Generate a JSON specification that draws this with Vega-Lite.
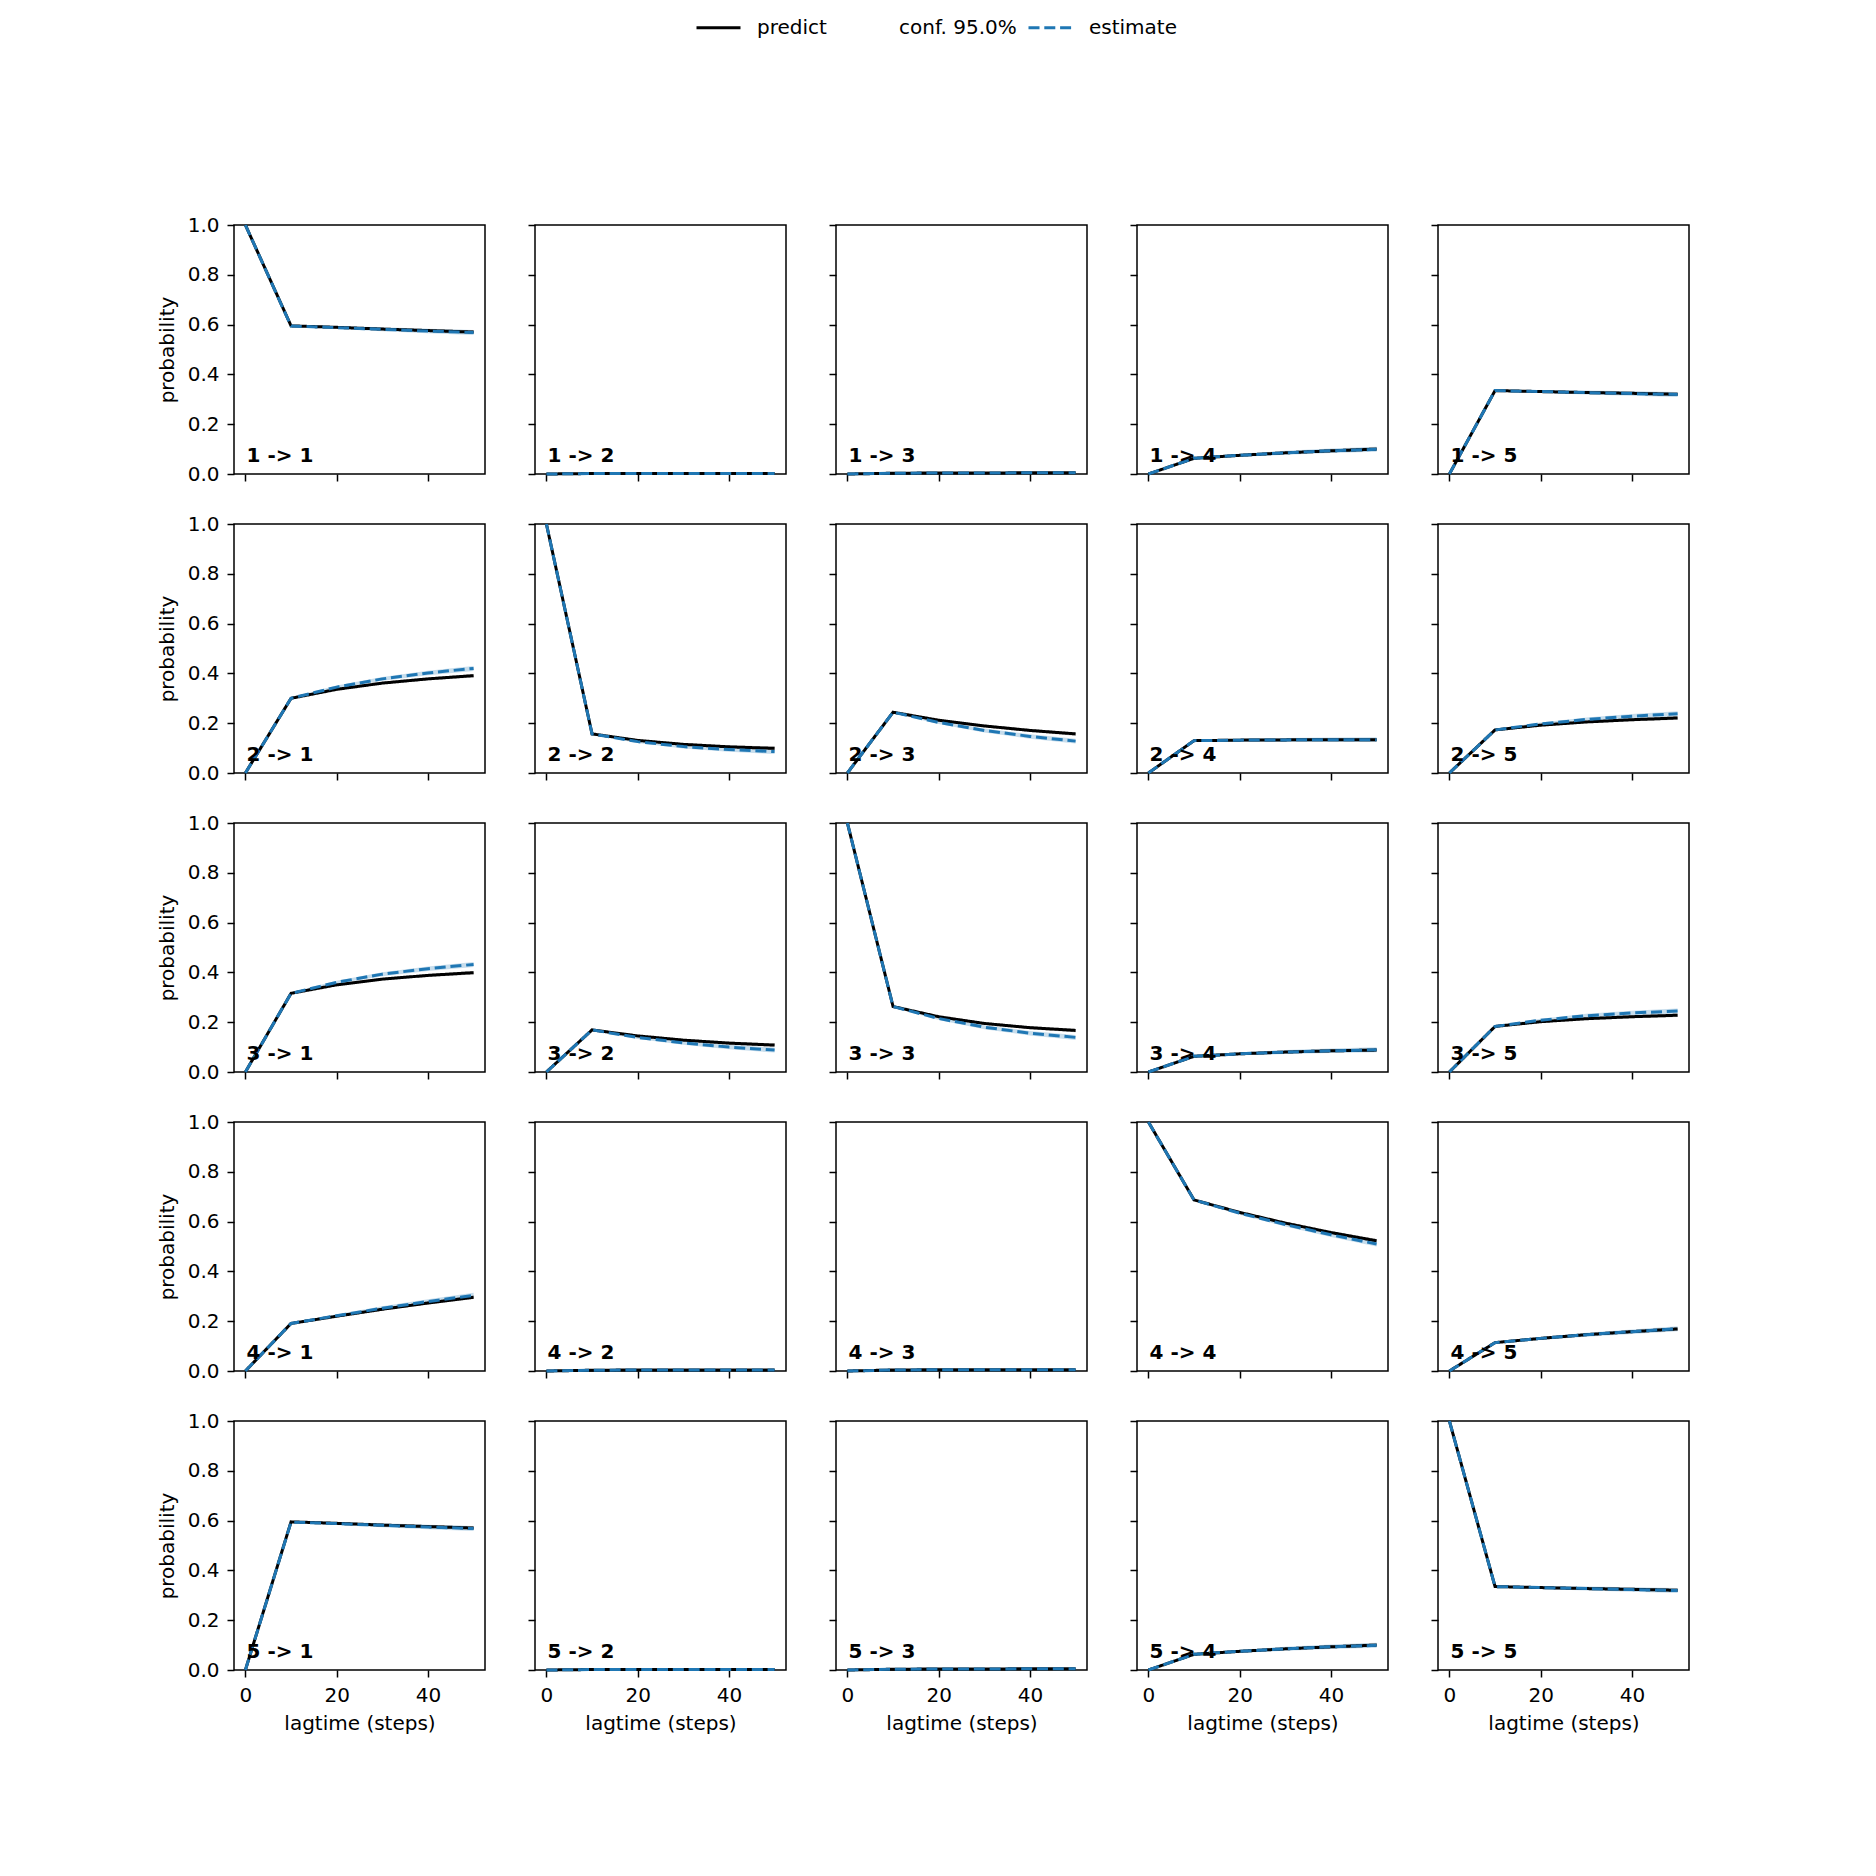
{
  "$schema": "https://vega.github.io/schema/vega-lite/v6.json",
  "padding": {"left": 156, "top": 4, "right": 10, "bottom": 10},
  "background": "white",
  "datasets": {
    "ck": [
      {"cell":"1 -> 1","kind":"predict","lag":0,"prob":1,"lo":1,"hi":1},
      {"cell":"1 -> 1","kind":"predict","lag":10,"prob":0.595,"lo":0.592,"hi":0.598},
      {"cell":"1 -> 1","kind":"predict","lag":20,"prob":0.589,"lo":0.585,"hi":0.593},
      {"cell":"1 -> 1","kind":"predict","lag":30,"prob":0.582,"lo":0.577,"hi":0.587},
      {"cell":"1 -> 1","kind":"predict","lag":40,"prob":0.576,"lo":0.570,"hi":0.582},
      {"cell":"1 -> 1","kind":"predict","lag":50,"prob":0.570,"lo":0.563,"hi":0.577},
      {"cell":"1 -> 1","kind":"estimate","lag":0,"prob":1,"lo":1,"hi":1},
      {"cell":"1 -> 1","kind":"estimate","lag":10,"prob":0.594,"lo":0.590,"hi":0.598},
      {"cell":"1 -> 1","kind":"estimate","lag":20,"prob":0.588,"lo":0.582,"hi":0.594},
      {"cell":"1 -> 1","kind":"estimate","lag":30,"prob":0.581,"lo":0.573,"hi":0.589},
      {"cell":"1 -> 1","kind":"estimate","lag":40,"prob":0.574,"lo":0.565,"hi":0.583},
      {"cell":"1 -> 1","kind":"estimate","lag":50,"prob":0.568,"lo":0.558,"hi":0.578},

      {"cell":"1 -> 2","kind":"predict","lag":0,"prob":0,"lo":0,"hi":0},
      {"cell":"1 -> 2","kind":"predict","lag":10,"prob":0.002,"lo":0.001,"hi":0.003},
      {"cell":"1 -> 2","kind":"predict","lag":20,"prob":0.002,"lo":0.001,"hi":0.003},
      {"cell":"1 -> 2","kind":"predict","lag":30,"prob":0.002,"lo":0.001,"hi":0.003},
      {"cell":"1 -> 2","kind":"predict","lag":40,"prob":0.002,"lo":0.001,"hi":0.003},
      {"cell":"1 -> 2","kind":"predict","lag":50,"prob":0.002,"lo":0.001,"hi":0.003},
      {"cell":"1 -> 2","kind":"estimate","lag":0,"prob":0,"lo":0,"hi":0},
      {"cell":"1 -> 2","kind":"estimate","lag":10,"prob":0.002,"lo":0.001,"hi":0.003},
      {"cell":"1 -> 2","kind":"estimate","lag":20,"prob":0.002,"lo":0.001,"hi":0.003},
      {"cell":"1 -> 2","kind":"estimate","lag":30,"prob":0.002,"lo":0.001,"hi":0.003},
      {"cell":"1 -> 2","kind":"estimate","lag":40,"prob":0.002,"lo":0.001,"hi":0.003},
      {"cell":"1 -> 2","kind":"estimate","lag":50,"prob":0.002,"lo":0.001,"hi":0.003},

      {"cell":"1 -> 3","kind":"predict","lag":0,"prob":0,"lo":0,"hi":0},
      {"cell":"1 -> 3","kind":"predict","lag":10,"prob":0.003,"lo":0.002,"hi":0.004},
      {"cell":"1 -> 3","kind":"predict","lag":20,"prob":0.004,"lo":0.003,"hi":0.005},
      {"cell":"1 -> 3","kind":"predict","lag":30,"prob":0.004,"lo":0.003,"hi":0.005},
      {"cell":"1 -> 3","kind":"predict","lag":40,"prob":0.005,"lo":0.004,"hi":0.006},
      {"cell":"1 -> 3","kind":"predict","lag":50,"prob":0.005,"lo":0.004,"hi":0.006},
      {"cell":"1 -> 3","kind":"estimate","lag":0,"prob":0,"lo":0,"hi":0},
      {"cell":"1 -> 3","kind":"estimate","lag":10,"prob":0.003,"lo":0.002,"hi":0.004},
      {"cell":"1 -> 3","kind":"estimate","lag":20,"prob":0.004,"lo":0.003,"hi":0.005},
      {"cell":"1 -> 3","kind":"estimate","lag":30,"prob":0.004,"lo":0.003,"hi":0.005},
      {"cell":"1 -> 3","kind":"estimate","lag":40,"prob":0.005,"lo":0.004,"hi":0.006},
      {"cell":"1 -> 3","kind":"estimate","lag":50,"prob":0.005,"lo":0.004,"hi":0.006},

      {"cell":"1 -> 4","kind":"predict","lag":0,"prob":0,"lo":0,"hi":0},
      {"cell":"1 -> 4","kind":"predict","lag":10,"prob":0.063,"lo":0.060,"hi":0.066},
      {"cell":"1 -> 4","kind":"predict","lag":20,"prob":0.075,"lo":0.071,"hi":0.079},
      {"cell":"1 -> 4","kind":"predict","lag":30,"prob":0.085,"lo":0.080,"hi":0.090},
      {"cell":"1 -> 4","kind":"predict","lag":40,"prob":0.093,"lo":0.087,"hi":0.099},
      {"cell":"1 -> 4","kind":"predict","lag":50,"prob":0.100,"lo":0.093,"hi":0.107},
      {"cell":"1 -> 4","kind":"estimate","lag":0,"prob":0,"lo":0,"hi":0},
      {"cell":"1 -> 4","kind":"estimate","lag":10,"prob":0.063,"lo":0.059,"hi":0.067},
      {"cell":"1 -> 4","kind":"estimate","lag":20,"prob":0.075,"lo":0.069,"hi":0.081},
      {"cell":"1 -> 4","kind":"estimate","lag":30,"prob":0.085,"lo":0.077,"hi":0.093},
      {"cell":"1 -> 4","kind":"estimate","lag":40,"prob":0.093,"lo":0.084,"hi":0.102},
      {"cell":"1 -> 4","kind":"estimate","lag":50,"prob":0.099,"lo":0.089,"hi":0.109},

      {"cell":"1 -> 5","kind":"predict","lag":0,"prob":0,"lo":0,"hi":0},
      {"cell":"1 -> 5","kind":"predict","lag":10,"prob":0.335,"lo":0.332,"hi":0.338},
      {"cell":"1 -> 5","kind":"predict","lag":20,"prob":0.331,"lo":0.327,"hi":0.335},
      {"cell":"1 -> 5","kind":"predict","lag":30,"prob":0.327,"lo":0.322,"hi":0.332},
      {"cell":"1 -> 5","kind":"predict","lag":40,"prob":0.324,"lo":0.318,"hi":0.330},
      {"cell":"1 -> 5","kind":"predict","lag":50,"prob":0.320,"lo":0.313,"hi":0.327},
      {"cell":"1 -> 5","kind":"estimate","lag":0,"prob":0,"lo":0,"hi":0},
      {"cell":"1 -> 5","kind":"estimate","lag":10,"prob":0.335,"lo":0.331,"hi":0.339},
      {"cell":"1 -> 5","kind":"estimate","lag":20,"prob":0.331,"lo":0.325,"hi":0.337},
      {"cell":"1 -> 5","kind":"estimate","lag":30,"prob":0.327,"lo":0.319,"hi":0.335},
      {"cell":"1 -> 5","kind":"estimate","lag":40,"prob":0.323,"lo":0.314,"hi":0.332},
      {"cell":"1 -> 5","kind":"estimate","lag":50,"prob":0.319,"lo":0.309,"hi":0.329},

      {"cell":"2 -> 1","kind":"predict","lag":0,"prob":0,"lo":0,"hi":0},
      {"cell":"2 -> 1","kind":"predict","lag":10,"prob":0.300,"lo":0.297,"hi":0.303},
      {"cell":"2 -> 1","kind":"predict","lag":20,"prob":0.336,"lo":0.332,"hi":0.340},
      {"cell":"2 -> 1","kind":"predict","lag":30,"prob":0.361,"lo":0.356,"hi":0.366},
      {"cell":"2 -> 1","kind":"predict","lag":40,"prob":0.378,"lo":0.372,"hi":0.384},
      {"cell":"2 -> 1","kind":"predict","lag":50,"prob":0.391,"lo":0.384,"hi":0.398},
      {"cell":"2 -> 1","kind":"estimate","lag":0,"prob":0,"lo":0,"hi":0},
      {"cell":"2 -> 1","kind":"estimate","lag":10,"prob":0.300,"lo":0.296,"hi":0.304},
      {"cell":"2 -> 1","kind":"estimate","lag":20,"prob":0.345,"lo":0.339,"hi":0.351},
      {"cell":"2 -> 1","kind":"estimate","lag":30,"prob":0.378,"lo":0.370,"hi":0.386},
      {"cell":"2 -> 1","kind":"estimate","lag":40,"prob":0.402,"lo":0.393,"hi":0.411},
      {"cell":"2 -> 1","kind":"estimate","lag":50,"prob":0.420,"lo":0.410,"hi":0.430},

      {"cell":"2 -> 2","kind":"predict","lag":0,"prob":1,"lo":1,"hi":1},
      {"cell":"2 -> 2","kind":"predict","lag":10,"prob":0.157,"lo":0.154,"hi":0.160},
      {"cell":"2 -> 2","kind":"predict","lag":20,"prob":0.131,"lo":0.127,"hi":0.135},
      {"cell":"2 -> 2","kind":"predict","lag":30,"prob":0.115,"lo":0.110,"hi":0.120},
      {"cell":"2 -> 2","kind":"predict","lag":40,"prob":0.105,"lo":0.099,"hi":0.111},
      {"cell":"2 -> 2","kind":"predict","lag":50,"prob":0.099,"lo":0.092,"hi":0.106},
      {"cell":"2 -> 2","kind":"estimate","lag":0,"prob":1,"lo":1,"hi":1},
      {"cell":"2 -> 2","kind":"estimate","lag":10,"prob":0.157,"lo":0.153,"hi":0.161},
      {"cell":"2 -> 2","kind":"estimate","lag":20,"prob":0.126,"lo":0.120,"hi":0.132},
      {"cell":"2 -> 2","kind":"estimate","lag":30,"prob":0.106,"lo":0.098,"hi":0.114},
      {"cell":"2 -> 2","kind":"estimate","lag":40,"prob":0.094,"lo":0.085,"hi":0.103},
      {"cell":"2 -> 2","kind":"estimate","lag":50,"prob":0.086,"lo":0.076,"hi":0.096},

      {"cell":"2 -> 3","kind":"predict","lag":0,"prob":0,"lo":0,"hi":0},
      {"cell":"2 -> 3","kind":"predict","lag":10,"prob":0.244,"lo":0.241,"hi":0.247},
      {"cell":"2 -> 3","kind":"predict","lag":20,"prob":0.212,"lo":0.208,"hi":0.216},
      {"cell":"2 -> 3","kind":"predict","lag":30,"prob":0.189,"lo":0.184,"hi":0.194},
      {"cell":"2 -> 3","kind":"predict","lag":40,"prob":0.171,"lo":0.165,"hi":0.177},
      {"cell":"2 -> 3","kind":"predict","lag":50,"prob":0.157,"lo":0.150,"hi":0.164},
      {"cell":"2 -> 3","kind":"estimate","lag":0,"prob":0,"lo":0,"hi":0},
      {"cell":"2 -> 3","kind":"estimate","lag":10,"prob":0.244,"lo":0.240,"hi":0.248},
      {"cell":"2 -> 3","kind":"estimate","lag":20,"prob":0.203,"lo":0.197,"hi":0.209},
      {"cell":"2 -> 3","kind":"estimate","lag":30,"prob":0.171,"lo":0.163,"hi":0.179},
      {"cell":"2 -> 3","kind":"estimate","lag":40,"prob":0.147,"lo":0.138,"hi":0.156},
      {"cell":"2 -> 3","kind":"estimate","lag":50,"prob":0.128,"lo":0.118,"hi":0.138},

      {"cell":"2 -> 4","kind":"predict","lag":0,"prob":0,"lo":0,"hi":0},
      {"cell":"2 -> 4","kind":"predict","lag":10,"prob":0.130,"lo":0.127,"hi":0.133},
      {"cell":"2 -> 4","kind":"predict","lag":20,"prob":0.132,"lo":0.128,"hi":0.136},
      {"cell":"2 -> 4","kind":"predict","lag":30,"prob":0.133,"lo":0.128,"hi":0.138},
      {"cell":"2 -> 4","kind":"predict","lag":40,"prob":0.134,"lo":0.128,"hi":0.140},
      {"cell":"2 -> 4","kind":"predict","lag":50,"prob":0.134,"lo":0.127,"hi":0.141},
      {"cell":"2 -> 4","kind":"estimate","lag":0,"prob":0,"lo":0,"hi":0},
      {"cell":"2 -> 4","kind":"estimate","lag":10,"prob":0.130,"lo":0.126,"hi":0.134},
      {"cell":"2 -> 4","kind":"estimate","lag":20,"prob":0.132,"lo":0.126,"hi":0.138},
      {"cell":"2 -> 4","kind":"estimate","lag":30,"prob":0.133,"lo":0.125,"hi":0.141},
      {"cell":"2 -> 4","kind":"estimate","lag":40,"prob":0.134,"lo":0.125,"hi":0.143},
      {"cell":"2 -> 4","kind":"estimate","lag":50,"prob":0.134,"lo":0.124,"hi":0.144},

      {"cell":"2 -> 5","kind":"predict","lag":0,"prob":0,"lo":0,"hi":0},
      {"cell":"2 -> 5","kind":"predict","lag":10,"prob":0.173,"lo":0.170,"hi":0.176},
      {"cell":"2 -> 5","kind":"predict","lag":20,"prob":0.192,"lo":0.188,"hi":0.196},
      {"cell":"2 -> 5","kind":"predict","lag":30,"prob":0.205,"lo":0.200,"hi":0.210},
      {"cell":"2 -> 5","kind":"predict","lag":40,"prob":0.214,"lo":0.208,"hi":0.220},
      {"cell":"2 -> 5","kind":"predict","lag":50,"prob":0.221,"lo":0.214,"hi":0.228},
      {"cell":"2 -> 5","kind":"estimate","lag":0,"prob":0,"lo":0,"hi":0},
      {"cell":"2 -> 5","kind":"estimate","lag":10,"prob":0.173,"lo":0.169,"hi":0.177},
      {"cell":"2 -> 5","kind":"estimate","lag":20,"prob":0.197,"lo":0.191,"hi":0.203},
      {"cell":"2 -> 5","kind":"estimate","lag":30,"prob":0.215,"lo":0.207,"hi":0.223},
      {"cell":"2 -> 5","kind":"estimate","lag":40,"prob":0.228,"lo":0.219,"hi":0.237},
      {"cell":"2 -> 5","kind":"estimate","lag":50,"prob":0.238,"lo":0.228,"hi":0.248},

      {"cell":"3 -> 1","kind":"predict","lag":0,"prob":0,"lo":0,"hi":0},
      {"cell":"3 -> 1","kind":"predict","lag":10,"prob":0.316,"lo":0.313,"hi":0.319},
      {"cell":"3 -> 1","kind":"predict","lag":20,"prob":0.350,"lo":0.346,"hi":0.354},
      {"cell":"3 -> 1","kind":"predict","lag":30,"prob":0.373,"lo":0.368,"hi":0.378},
      {"cell":"3 -> 1","kind":"predict","lag":40,"prob":0.388,"lo":0.382,"hi":0.394},
      {"cell":"3 -> 1","kind":"predict","lag":50,"prob":0.399,"lo":0.392,"hi":0.406},
      {"cell":"3 -> 1","kind":"estimate","lag":0,"prob":0,"lo":0,"hi":0},
      {"cell":"3 -> 1","kind":"estimate","lag":10,"prob":0.316,"lo":0.312,"hi":0.320},
      {"cell":"3 -> 1","kind":"estimate","lag":20,"prob":0.360,"lo":0.354,"hi":0.366},
      {"cell":"3 -> 1","kind":"estimate","lag":30,"prob":0.393,"lo":0.385,"hi":0.401},
      {"cell":"3 -> 1","kind":"estimate","lag":40,"prob":0.415,"lo":0.406,"hi":0.424},
      {"cell":"3 -> 1","kind":"estimate","lag":50,"prob":0.432,"lo":0.422,"hi":0.442},

      {"cell":"3 -> 2","kind":"predict","lag":0,"prob":0,"lo":0,"hi":0},
      {"cell":"3 -> 2","kind":"predict","lag":10,"prob":0.169,"lo":0.166,"hi":0.172},
      {"cell":"3 -> 2","kind":"predict","lag":20,"prob":0.145,"lo":0.141,"hi":0.149},
      {"cell":"3 -> 2","kind":"predict","lag":30,"prob":0.128,"lo":0.123,"hi":0.133},
      {"cell":"3 -> 2","kind":"predict","lag":40,"prob":0.116,"lo":0.110,"hi":0.122},
      {"cell":"3 -> 2","kind":"predict","lag":50,"prob":0.108,"lo":0.101,"hi":0.115},
      {"cell":"3 -> 2","kind":"estimate","lag":0,"prob":0,"lo":0,"hi":0},
      {"cell":"3 -> 2","kind":"estimate","lag":10,"prob":0.169,"lo":0.165,"hi":0.173},
      {"cell":"3 -> 2","kind":"estimate","lag":20,"prob":0.139,"lo":0.133,"hi":0.145},
      {"cell":"3 -> 2","kind":"estimate","lag":30,"prob":0.117,"lo":0.109,"hi":0.125},
      {"cell":"3 -> 2","kind":"estimate","lag":40,"prob":0.100,"lo":0.091,"hi":0.109},
      {"cell":"3 -> 2","kind":"estimate","lag":50,"prob":0.088,"lo":0.078,"hi":0.098},

      {"cell":"3 -> 3","kind":"predict","lag":0,"prob":1,"lo":1,"hi":1},
      {"cell":"3 -> 3","kind":"predict","lag":10,"prob":0.263,"lo":0.260,"hi":0.266},
      {"cell":"3 -> 3","kind":"predict","lag":20,"prob":0.222,"lo":0.218,"hi":0.226},
      {"cell":"3 -> 3","kind":"predict","lag":30,"prob":0.195,"lo":0.190,"hi":0.200},
      {"cell":"3 -> 3","kind":"predict","lag":40,"prob":0.178,"lo":0.172,"hi":0.184},
      {"cell":"3 -> 3","kind":"predict","lag":50,"prob":0.167,"lo":0.160,"hi":0.174},
      {"cell":"3 -> 3","kind":"estimate","lag":0,"prob":1,"lo":1,"hi":1},
      {"cell":"3 -> 3","kind":"estimate","lag":10,"prob":0.263,"lo":0.259,"hi":0.267},
      {"cell":"3 -> 3","kind":"estimate","lag":20,"prob":0.215,"lo":0.209,"hi":0.221},
      {"cell":"3 -> 3","kind":"estimate","lag":30,"prob":0.180,"lo":0.172,"hi":0.188},
      {"cell":"3 -> 3","kind":"estimate","lag":40,"prob":0.156,"lo":0.147,"hi":0.165},
      {"cell":"3 -> 3","kind":"estimate","lag":50,"prob":0.139,"lo":0.129,"hi":0.149},

      {"cell":"3 -> 4","kind":"predict","lag":0,"prob":0,"lo":0,"hi":0},
      {"cell":"3 -> 4","kind":"predict","lag":10,"prob":0.063,"lo":0.060,"hi":0.066},
      {"cell":"3 -> 4","kind":"predict","lag":20,"prob":0.073,"lo":0.069,"hi":0.077},
      {"cell":"3 -> 4","kind":"predict","lag":30,"prob":0.080,"lo":0.075,"hi":0.085},
      {"cell":"3 -> 4","kind":"predict","lag":40,"prob":0.085,"lo":0.079,"hi":0.091},
      {"cell":"3 -> 4","kind":"predict","lag":50,"prob":0.088,"lo":0.081,"hi":0.095},
      {"cell":"3 -> 4","kind":"estimate","lag":0,"prob":0,"lo":0,"hi":0},
      {"cell":"3 -> 4","kind":"estimate","lag":10,"prob":0.063,"lo":0.059,"hi":0.067},
      {"cell":"3 -> 4","kind":"estimate","lag":20,"prob":0.073,"lo":0.067,"hi":0.079},
      {"cell":"3 -> 4","kind":"estimate","lag":30,"prob":0.080,"lo":0.072,"hi":0.088},
      {"cell":"3 -> 4","kind":"estimate","lag":40,"prob":0.085,"lo":0.076,"hi":0.094},
      {"cell":"3 -> 4","kind":"estimate","lag":50,"prob":0.089,"lo":0.079,"hi":0.099},

      {"cell":"3 -> 5","kind":"predict","lag":0,"prob":0,"lo":0,"hi":0},
      {"cell":"3 -> 5","kind":"predict","lag":10,"prob":0.183,"lo":0.180,"hi":0.186},
      {"cell":"3 -> 5","kind":"predict","lag":20,"prob":0.202,"lo":0.198,"hi":0.206},
      {"cell":"3 -> 5","kind":"predict","lag":30,"prob":0.214,"lo":0.209,"hi":0.219},
      {"cell":"3 -> 5","kind":"predict","lag":40,"prob":0.222,"lo":0.216,"hi":0.228},
      {"cell":"3 -> 5","kind":"predict","lag":50,"prob":0.228,"lo":0.221,"hi":0.235},
      {"cell":"3 -> 5","kind":"estimate","lag":0,"prob":0,"lo":0,"hi":0},
      {"cell":"3 -> 5","kind":"estimate","lag":10,"prob":0.183,"lo":0.179,"hi":0.187},
      {"cell":"3 -> 5","kind":"estimate","lag":20,"prob":0.208,"lo":0.202,"hi":0.214},
      {"cell":"3 -> 5","kind":"estimate","lag":30,"prob":0.226,"lo":0.218,"hi":0.234},
      {"cell":"3 -> 5","kind":"estimate","lag":40,"prob":0.237,"lo":0.228,"hi":0.246},
      {"cell":"3 -> 5","kind":"estimate","lag":50,"prob":0.245,"lo":0.235,"hi":0.255},

      {"cell":"4 -> 1","kind":"predict","lag":0,"prob":0,"lo":0,"hi":0},
      {"cell":"4 -> 1","kind":"predict","lag":10,"prob":0.191,"lo":0.188,"hi":0.194},
      {"cell":"4 -> 1","kind":"predict","lag":20,"prob":0.220,"lo":0.216,"hi":0.224},
      {"cell":"4 -> 1","kind":"predict","lag":30,"prob":0.248,"lo":0.243,"hi":0.253},
      {"cell":"4 -> 1","kind":"predict","lag":40,"prob":0.273,"lo":0.267,"hi":0.279},
      {"cell":"4 -> 1","kind":"predict","lag":50,"prob":0.296,"lo":0.289,"hi":0.303},
      {"cell":"4 -> 1","kind":"estimate","lag":0,"prob":0,"lo":0,"hi":0},
      {"cell":"4 -> 1","kind":"estimate","lag":10,"prob":0.191,"lo":0.187,"hi":0.195},
      {"cell":"4 -> 1","kind":"estimate","lag":20,"prob":0.222,"lo":0.216,"hi":0.228},
      {"cell":"4 -> 1","kind":"estimate","lag":30,"prob":0.252,"lo":0.244,"hi":0.260},
      {"cell":"4 -> 1","kind":"estimate","lag":40,"prob":0.279,"lo":0.270,"hi":0.288},
      {"cell":"4 -> 1","kind":"estimate","lag":50,"prob":0.304,"lo":0.294,"hi":0.314},

      {"cell":"4 -> 2","kind":"predict","lag":0,"prob":0,"lo":0,"hi":0},
      {"cell":"4 -> 2","kind":"predict","lag":10,"prob":0.003,"lo":0.002,"hi":0.004},
      {"cell":"4 -> 2","kind":"predict","lag":20,"prob":0.004,"lo":0.003,"hi":0.005},
      {"cell":"4 -> 2","kind":"predict","lag":30,"prob":0.004,"lo":0.003,"hi":0.005},
      {"cell":"4 -> 2","kind":"predict","lag":40,"prob":0.004,"lo":0.003,"hi":0.005},
      {"cell":"4 -> 2","kind":"predict","lag":50,"prob":0.004,"lo":0.003,"hi":0.005},
      {"cell":"4 -> 2","kind":"estimate","lag":0,"prob":0,"lo":0,"hi":0},
      {"cell":"4 -> 2","kind":"estimate","lag":10,"prob":0.003,"lo":0.002,"hi":0.004},
      {"cell":"4 -> 2","kind":"estimate","lag":20,"prob":0.004,"lo":0.003,"hi":0.005},
      {"cell":"4 -> 2","kind":"estimate","lag":30,"prob":0.004,"lo":0.003,"hi":0.005},
      {"cell":"4 -> 2","kind":"estimate","lag":40,"prob":0.004,"lo":0.003,"hi":0.005},
      {"cell":"4 -> 2","kind":"estimate","lag":50,"prob":0.004,"lo":0.003,"hi":0.005},

      {"cell":"4 -> 3","kind":"predict","lag":0,"prob":0,"lo":0,"hi":0},
      {"cell":"4 -> 3","kind":"predict","lag":10,"prob":0.004,"lo":0.003,"hi":0.005},
      {"cell":"4 -> 3","kind":"predict","lag":20,"prob":0.005,"lo":0.004,"hi":0.006},
      {"cell":"4 -> 3","kind":"predict","lag":30,"prob":0.005,"lo":0.004,"hi":0.006},
      {"cell":"4 -> 3","kind":"predict","lag":40,"prob":0.005,"lo":0.004,"hi":0.006},
      {"cell":"4 -> 3","kind":"predict","lag":50,"prob":0.005,"lo":0.004,"hi":0.006},
      {"cell":"4 -> 3","kind":"estimate","lag":0,"prob":0,"lo":0,"hi":0},
      {"cell":"4 -> 3","kind":"estimate","lag":10,"prob":0.004,"lo":0.003,"hi":0.005},
      {"cell":"4 -> 3","kind":"estimate","lag":20,"prob":0.005,"lo":0.004,"hi":0.006},
      {"cell":"4 -> 3","kind":"estimate","lag":30,"prob":0.005,"lo":0.004,"hi":0.006},
      {"cell":"4 -> 3","kind":"estimate","lag":40,"prob":0.005,"lo":0.004,"hi":0.006},
      {"cell":"4 -> 3","kind":"estimate","lag":50,"prob":0.005,"lo":0.004,"hi":0.006},

      {"cell":"4 -> 4","kind":"predict","lag":0,"prob":1,"lo":1,"hi":1},
      {"cell":"4 -> 4","kind":"predict","lag":10,"prob":0.687,"lo":0.684,"hi":0.690},
      {"cell":"4 -> 4","kind":"predict","lag":20,"prob":0.637,"lo":0.633,"hi":0.641},
      {"cell":"4 -> 4","kind":"predict","lag":30,"prob":0.594,"lo":0.589,"hi":0.599},
      {"cell":"4 -> 4","kind":"predict","lag":40,"prob":0.556,"lo":0.550,"hi":0.562},
      {"cell":"4 -> 4","kind":"predict","lag":50,"prob":0.523,"lo":0.516,"hi":0.530},
      {"cell":"4 -> 4","kind":"estimate","lag":0,"prob":1,"lo":1,"hi":1},
      {"cell":"4 -> 4","kind":"estimate","lag":10,"prob":0.687,"lo":0.683,"hi":0.691},
      {"cell":"4 -> 4","kind":"estimate","lag":20,"prob":0.634,"lo":0.628,"hi":0.640},
      {"cell":"4 -> 4","kind":"estimate","lag":30,"prob":0.588,"lo":0.580,"hi":0.596},
      {"cell":"4 -> 4","kind":"estimate","lag":40,"prob":0.547,"lo":0.538,"hi":0.556},
      {"cell":"4 -> 4","kind":"estimate","lag":50,"prob":0.510,"lo":0.500,"hi":0.520},

      {"cell":"4 -> 5","kind":"predict","lag":0,"prob":0,"lo":0,"hi":0},
      {"cell":"4 -> 5","kind":"predict","lag":10,"prob":0.114,"lo":0.111,"hi":0.117},
      {"cell":"4 -> 5","kind":"predict","lag":20,"prob":0.131,"lo":0.127,"hi":0.135},
      {"cell":"4 -> 5","kind":"predict","lag":30,"prob":0.146,"lo":0.141,"hi":0.151},
      {"cell":"4 -> 5","kind":"predict","lag":40,"prob":0.158,"lo":0.152,"hi":0.164},
      {"cell":"4 -> 5","kind":"predict","lag":50,"prob":0.169,"lo":0.162,"hi":0.176},
      {"cell":"4 -> 5","kind":"estimate","lag":0,"prob":0,"lo":0,"hi":0},
      {"cell":"4 -> 5","kind":"estimate","lag":10,"prob":0.114,"lo":0.110,"hi":0.118},
      {"cell":"4 -> 5","kind":"estimate","lag":20,"prob":0.131,"lo":0.125,"hi":0.137},
      {"cell":"4 -> 5","kind":"estimate","lag":30,"prob":0.146,"lo":0.138,"hi":0.154},
      {"cell":"4 -> 5","kind":"estimate","lag":40,"prob":0.158,"lo":0.149,"hi":0.167},
      {"cell":"4 -> 5","kind":"estimate","lag":50,"prob":0.170,"lo":0.160,"hi":0.180},

      {"cell":"5 -> 1","kind":"predict","lag":0,"prob":0,"lo":0,"hi":0},
      {"cell":"5 -> 1","kind":"predict","lag":10,"prob":0.595,"lo":0.592,"hi":0.598},
      {"cell":"5 -> 1","kind":"predict","lag":20,"prob":0.589,"lo":0.585,"hi":0.593},
      {"cell":"5 -> 1","kind":"predict","lag":30,"prob":0.582,"lo":0.577,"hi":0.587},
      {"cell":"5 -> 1","kind":"predict","lag":40,"prob":0.576,"lo":0.570,"hi":0.582},
      {"cell":"5 -> 1","kind":"predict","lag":50,"prob":0.570,"lo":0.563,"hi":0.577},
      {"cell":"5 -> 1","kind":"estimate","lag":0,"prob":0,"lo":0,"hi":0},
      {"cell":"5 -> 1","kind":"estimate","lag":10,"prob":0.594,"lo":0.590,"hi":0.598},
      {"cell":"5 -> 1","kind":"estimate","lag":20,"prob":0.588,"lo":0.582,"hi":0.594},
      {"cell":"5 -> 1","kind":"estimate","lag":30,"prob":0.581,"lo":0.573,"hi":0.589},
      {"cell":"5 -> 1","kind":"estimate","lag":40,"prob":0.574,"lo":0.565,"hi":0.583},
      {"cell":"5 -> 1","kind":"estimate","lag":50,"prob":0.568,"lo":0.558,"hi":0.578},

      {"cell":"5 -> 2","kind":"predict","lag":0,"prob":0,"lo":0,"hi":0},
      {"cell":"5 -> 2","kind":"predict","lag":10,"prob":0.002,"lo":0.001,"hi":0.003},
      {"cell":"5 -> 2","kind":"predict","lag":20,"prob":0.002,"lo":0.001,"hi":0.003},
      {"cell":"5 -> 2","kind":"predict","lag":30,"prob":0.002,"lo":0.001,"hi":0.003},
      {"cell":"5 -> 2","kind":"predict","lag":40,"prob":0.002,"lo":0.001,"hi":0.003},
      {"cell":"5 -> 2","kind":"predict","lag":50,"prob":0.002,"lo":0.001,"hi":0.003},
      {"cell":"5 -> 2","kind":"estimate","lag":0,"prob":0,"lo":0,"hi":0},
      {"cell":"5 -> 2","kind":"estimate","lag":10,"prob":0.002,"lo":0.001,"hi":0.003},
      {"cell":"5 -> 2","kind":"estimate","lag":20,"prob":0.002,"lo":0.001,"hi":0.003},
      {"cell":"5 -> 2","kind":"estimate","lag":30,"prob":0.002,"lo":0.001,"hi":0.003},
      {"cell":"5 -> 2","kind":"estimate","lag":40,"prob":0.002,"lo":0.001,"hi":0.003},
      {"cell":"5 -> 2","kind":"estimate","lag":50,"prob":0.002,"lo":0.001,"hi":0.003},

      {"cell":"5 -> 3","kind":"predict","lag":0,"prob":0,"lo":0,"hi":0},
      {"cell":"5 -> 3","kind":"predict","lag":10,"prob":0.003,"lo":0.002,"hi":0.004},
      {"cell":"5 -> 3","kind":"predict","lag":20,"prob":0.004,"lo":0.003,"hi":0.005},
      {"cell":"5 -> 3","kind":"predict","lag":30,"prob":0.004,"lo":0.003,"hi":0.005},
      {"cell":"5 -> 3","kind":"predict","lag":40,"prob":0.005,"lo":0.004,"hi":0.006},
      {"cell":"5 -> 3","kind":"predict","lag":50,"prob":0.005,"lo":0.004,"hi":0.006},
      {"cell":"5 -> 3","kind":"estimate","lag":0,"prob":0,"lo":0,"hi":0},
      {"cell":"5 -> 3","kind":"estimate","lag":10,"prob":0.003,"lo":0.002,"hi":0.004},
      {"cell":"5 -> 3","kind":"estimate","lag":20,"prob":0.004,"lo":0.003,"hi":0.005},
      {"cell":"5 -> 3","kind":"estimate","lag":30,"prob":0.004,"lo":0.003,"hi":0.005},
      {"cell":"5 -> 3","kind":"estimate","lag":40,"prob":0.005,"lo":0.004,"hi":0.006},
      {"cell":"5 -> 3","kind":"estimate","lag":50,"prob":0.005,"lo":0.004,"hi":0.006},

      {"cell":"5 -> 4","kind":"predict","lag":0,"prob":0,"lo":0,"hi":0},
      {"cell":"5 -> 4","kind":"predict","lag":10,"prob":0.063,"lo":0.060,"hi":0.066},
      {"cell":"5 -> 4","kind":"predict","lag":20,"prob":0.075,"lo":0.071,"hi":0.079},
      {"cell":"5 -> 4","kind":"predict","lag":30,"prob":0.085,"lo":0.080,"hi":0.090},
      {"cell":"5 -> 4","kind":"predict","lag":40,"prob":0.093,"lo":0.087,"hi":0.099},
      {"cell":"5 -> 4","kind":"predict","lag":50,"prob":0.100,"lo":0.093,"hi":0.107},
      {"cell":"5 -> 4","kind":"estimate","lag":0,"prob":0,"lo":0,"hi":0},
      {"cell":"5 -> 4","kind":"estimate","lag":10,"prob":0.063,"lo":0.059,"hi":0.067},
      {"cell":"5 -> 4","kind":"estimate","lag":20,"prob":0.075,"lo":0.069,"hi":0.081},
      {"cell":"5 -> 4","kind":"estimate","lag":30,"prob":0.085,"lo":0.077,"hi":0.093},
      {"cell":"5 -> 4","kind":"estimate","lag":40,"prob":0.093,"lo":0.084,"hi":0.102},
      {"cell":"5 -> 4","kind":"estimate","lag":50,"prob":0.099,"lo":0.089,"hi":0.109},

      {"cell":"5 -> 5","kind":"predict","lag":0,"prob":1,"lo":1,"hi":1},
      {"cell":"5 -> 5","kind":"predict","lag":10,"prob":0.335,"lo":0.332,"hi":0.338},
      {"cell":"5 -> 5","kind":"predict","lag":20,"prob":0.331,"lo":0.327,"hi":0.335},
      {"cell":"5 -> 5","kind":"predict","lag":30,"prob":0.327,"lo":0.322,"hi":0.332},
      {"cell":"5 -> 5","kind":"predict","lag":40,"prob":0.324,"lo":0.318,"hi":0.330},
      {"cell":"5 -> 5","kind":"predict","lag":50,"prob":0.320,"lo":0.313,"hi":0.327},
      {"cell":"5 -> 5","kind":"estimate","lag":0,"prob":1,"lo":1,"hi":1},
      {"cell":"5 -> 5","kind":"estimate","lag":10,"prob":0.335,"lo":0.331,"hi":0.339},
      {"cell":"5 -> 5","kind":"estimate","lag":20,"prob":0.331,"lo":0.325,"hi":0.337},
      {"cell":"5 -> 5","kind":"estimate","lag":30,"prob":0.327,"lo":0.319,"hi":0.335},
      {"cell":"5 -> 5","kind":"estimate","lag":40,"prob":0.323,"lo":0.314,"hi":0.332},
      {"cell":"5 -> 5","kind":"estimate","lag":50,"prob":0.319,"lo":0.309,"hi":0.329}
    ]
  },
  "data": {"name": "ck"},
  "columns": 5,
  "spacing": {"row": 50, "column": 50},
  "bounds": "flush",
  "concat": [
    {"transform":[{"filter":"datum.cell == '1 -> 1'"}],"encoding":{"x":{"field":"lag","type":"quantitative","scale":{"domain":[-2.5,52.5],"nice":false,"zero":false},"axis":{"values":[0,20,40],"labels":false,"title":null}},"y":{"field":"prob","type":"quantitative","scale":{"domain":[0,1],"nice":false},"axis":{"values":[0,0.2,0.4,0.6,0.8,1],"format":".1f","labels":true,"title":"probability"}}},"layer":[
      {"mark":{"type":"area","opacity":0.25},"encoding":{"y":{"field":"lo","type":"quantitative"},"y2":{"field":"hi"},"fill":{"field":"kind","type":"nominal","legend":null,"scale":{"domain":["predict","estimate"],"range":["#000000","#1f77b4"]}}}},
      {"transform":[{"filter":"datum.kind == 'predict'"}],"mark":{"type":"line","strokeWidth":3},"encoding":{"stroke":{"field":"kind","type":"nominal","title":null,"scale":{"domain":["predict","conf. 95.0%","estimate"],"range":["#000000","transparent","#1f77b4"]}},"strokeDash":{"field":"kind","type":"nominal","title":null,"scale":{"domain":["predict","conf. 95.0%","estimate"],"range":[[1,0],[1,0],[11,4.8]]}}}},
      {"transform":[{"filter":"datum.kind == 'estimate'"}],"mark":{"type":"line","strokeWidth":3},"encoding":{"stroke":{"field":"kind","type":"nominal","title":null,"scale":{"domain":["predict","conf. 95.0%","estimate"],"range":["#000000","transparent","#1f77b4"]}},"strokeDash":{"field":"kind","type":"nominal","title":null,"scale":{"domain":["predict","conf. 95.0%","estimate"],"range":[[1,0],[1,0],[11,4.8]]}}}},
      {"transform":[{"filter":"datum.kind == 'predict' && datum.lag == 0"}],"mark":{"type":"text","fontWeight":"bold","align":"left","baseline":"alphabetic"},"encoding":{"x":{"datum":0.25,"type":"quantitative"},"y":{"datum":0.05,"type":"quantitative"},"text":{"field":"cell"}}}
    ]},
    {"transform":[{"filter":"datum.cell == '1 -> 2'"}],"encoding":{"x":{"field":"lag","type":"quantitative","scale":{"domain":[-2.5,52.5],"nice":false,"zero":false},"axis":{"values":[0,20,40],"labels":false,"title":null}},"y":{"field":"prob","type":"quantitative","scale":{"domain":[0,1],"nice":false},"axis":{"values":[0,0.2,0.4,0.6,0.8,1],"format":".1f","labels":false,"title":null}}},"layer":[
      {"mark":{"type":"area","opacity":0.25},"encoding":{"y":{"field":"lo","type":"quantitative"},"y2":{"field":"hi"},"fill":{"field":"kind","type":"nominal","legend":null,"scale":{"domain":["predict","estimate"],"range":["#000000","#1f77b4"]}}}},
      {"transform":[{"filter":"datum.kind == 'predict'"}],"mark":{"type":"line","strokeWidth":3},"encoding":{"stroke":{"field":"kind","type":"nominal","title":null,"scale":{"domain":["predict","conf. 95.0%","estimate"],"range":["#000000","transparent","#1f77b4"]}},"strokeDash":{"field":"kind","type":"nominal","title":null,"scale":{"domain":["predict","conf. 95.0%","estimate"],"range":[[1,0],[1,0],[11,4.8]]}}}},
      {"transform":[{"filter":"datum.kind == 'estimate'"}],"mark":{"type":"line","strokeWidth":3},"encoding":{"stroke":{"field":"kind","type":"nominal","title":null,"scale":{"domain":["predict","conf. 95.0%","estimate"],"range":["#000000","transparent","#1f77b4"]}},"strokeDash":{"field":"kind","type":"nominal","title":null,"scale":{"domain":["predict","conf. 95.0%","estimate"],"range":[[1,0],[1,0],[11,4.8]]}}}},
      {"transform":[{"filter":"datum.kind == 'predict' && datum.lag == 0"}],"mark":{"type":"text","fontWeight":"bold","align":"left","baseline":"alphabetic"},"encoding":{"x":{"datum":0.25,"type":"quantitative"},"y":{"datum":0.05,"type":"quantitative"},"text":{"field":"cell"}}}
    ]},
    {"transform":[{"filter":"datum.cell == '1 -> 3'"}],"encoding":{"x":{"field":"lag","type":"quantitative","scale":{"domain":[-2.5,52.5],"nice":false,"zero":false},"axis":{"values":[0,20,40],"labels":false,"title":null}},"y":{"field":"prob","type":"quantitative","scale":{"domain":[0,1],"nice":false},"axis":{"values":[0,0.2,0.4,0.6,0.8,1],"format":".1f","labels":false,"title":null}}},"layer":[
      {"mark":{"type":"area","opacity":0.25},"encoding":{"y":{"field":"lo","type":"quantitative"},"y2":{"field":"hi"},"fill":{"field":"kind","type":"nominal","legend":null,"scale":{"domain":["predict","estimate"],"range":["#000000","#1f77b4"]}}}},
      {"transform":[{"filter":"datum.kind == 'predict'"}],"mark":{"type":"line","strokeWidth":3},"encoding":{"stroke":{"field":"kind","type":"nominal","title":null,"scale":{"domain":["predict","conf. 95.0%","estimate"],"range":["#000000","transparent","#1f77b4"]}},"strokeDash":{"field":"kind","type":"nominal","title":null,"scale":{"domain":["predict","conf. 95.0%","estimate"],"range":[[1,0],[1,0],[11,4.8]]}}}},
      {"transform":[{"filter":"datum.kind == 'estimate'"}],"mark":{"type":"line","strokeWidth":3},"encoding":{"stroke":{"field":"kind","type":"nominal","title":null,"scale":{"domain":["predict","conf. 95.0%","estimate"],"range":["#000000","transparent","#1f77b4"]}},"strokeDash":{"field":"kind","type":"nominal","title":null,"scale":{"domain":["predict","conf. 95.0%","estimate"],"range":[[1,0],[1,0],[11,4.8]]}}}},
      {"transform":[{"filter":"datum.kind == 'predict' && datum.lag == 0"}],"mark":{"type":"text","fontWeight":"bold","align":"left","baseline":"alphabetic"},"encoding":{"x":{"datum":0.25,"type":"quantitative"},"y":{"datum":0.05,"type":"quantitative"},"text":{"field":"cell"}}}
    ]},
    {"transform":[{"filter":"datum.cell == '1 -> 4'"}],"encoding":{"x":{"field":"lag","type":"quantitative","scale":{"domain":[-2.5,52.5],"nice":false,"zero":false},"axis":{"values":[0,20,40],"labels":false,"title":null}},"y":{"field":"prob","type":"quantitative","scale":{"domain":[0,1],"nice":false},"axis":{"values":[0,0.2,0.4,0.6,0.8,1],"format":".1f","labels":false,"title":null}}},"layer":[
      {"mark":{"type":"area","opacity":0.25},"encoding":{"y":{"field":"lo","type":"quantitative"},"y2":{"field":"hi"},"fill":{"field":"kind","type":"nominal","legend":null,"scale":{"domain":["predict","estimate"],"range":["#000000","#1f77b4"]}}}},
      {"transform":[{"filter":"datum.kind == 'predict'"}],"mark":{"type":"line","strokeWidth":3},"encoding":{"stroke":{"field":"kind","type":"nominal","title":null,"scale":{"domain":["predict","conf. 95.0%","estimate"],"range":["#000000","transparent","#1f77b4"]}},"strokeDash":{"field":"kind","type":"nominal","title":null,"scale":{"domain":["predict","conf. 95.0%","estimate"],"range":[[1,0],[1,0],[11,4.8]]}}}},
      {"transform":[{"filter":"datum.kind == 'estimate'"}],"mark":{"type":"line","strokeWidth":3},"encoding":{"stroke":{"field":"kind","type":"nominal","title":null,"scale":{"domain":["predict","conf. 95.0%","estimate"],"range":["#000000","transparent","#1f77b4"]}},"strokeDash":{"field":"kind","type":"nominal","title":null,"scale":{"domain":["predict","conf. 95.0%","estimate"],"range":[[1,0],[1,0],[11,4.8]]}}}},
      {"transform":[{"filter":"datum.kind == 'predict' && datum.lag == 0"}],"mark":{"type":"text","fontWeight":"bold","align":"left","baseline":"alphabetic"},"encoding":{"x":{"datum":0.25,"type":"quantitative"},"y":{"datum":0.05,"type":"quantitative"},"text":{"field":"cell"}}}
    ]},
    {"transform":[{"filter":"datum.cell == '1 -> 5'"}],"encoding":{"x":{"field":"lag","type":"quantitative","scale":{"domain":[-2.5,52.5],"nice":false,"zero":false},"axis":{"values":[0,20,40],"labels":false,"title":null}},"y":{"field":"prob","type":"quantitative","scale":{"domain":[0,1],"nice":false},"axis":{"values":[0,0.2,0.4,0.6,0.8,1],"format":".1f","labels":false,"title":null}}},"layer":[
      {"mark":{"type":"area","opacity":0.25},"encoding":{"y":{"field":"lo","type":"quantitative"},"y2":{"field":"hi"},"fill":{"field":"kind","type":"nominal","legend":null,"scale":{"domain":["predict","estimate"],"range":["#000000","#1f77b4"]}}}},
      {"transform":[{"filter":"datum.kind == 'predict'"}],"mark":{"type":"line","strokeWidth":3},"encoding":{"stroke":{"field":"kind","type":"nominal","title":null,"scale":{"domain":["predict","conf. 95.0%","estimate"],"range":["#000000","transparent","#1f77b4"]}},"strokeDash":{"field":"kind","type":"nominal","title":null,"scale":{"domain":["predict","conf. 95.0%","estimate"],"range":[[1,0],[1,0],[11,4.8]]}}}},
      {"transform":[{"filter":"datum.kind == 'estimate'"}],"mark":{"type":"line","strokeWidth":3},"encoding":{"stroke":{"field":"kind","type":"nominal","title":null,"scale":{"domain":["predict","conf. 95.0%","estimate"],"range":["#000000","transparent","#1f77b4"]}},"strokeDash":{"field":"kind","type":"nominal","title":null,"scale":{"domain":["predict","conf. 95.0%","estimate"],"range":[[1,0],[1,0],[11,4.8]]}}}},
      {"transform":[{"filter":"datum.kind == 'predict' && datum.lag == 0"}],"mark":{"type":"text","fontWeight":"bold","align":"left","baseline":"alphabetic"},"encoding":{"x":{"datum":0.25,"type":"quantitative"},"y":{"datum":0.05,"type":"quantitative"},"text":{"field":"cell"}}}
    ]},

    {"transform":[{"filter":"datum.cell == '2 -> 1'"}],"encoding":{"x":{"field":"lag","type":"quantitative","scale":{"domain":[-2.5,52.5],"nice":false,"zero":false},"axis":{"values":[0,20,40],"labels":false,"title":null}},"y":{"field":"prob","type":"quantitative","scale":{"domain":[0,1],"nice":false},"axis":{"values":[0,0.2,0.4,0.6,0.8,1],"format":".1f","labels":true,"title":"probability"}}},"layer":[
      {"mark":{"type":"area","opacity":0.25},"encoding":{"y":{"field":"lo","type":"quantitative"},"y2":{"field":"hi"},"fill":{"field":"kind","type":"nominal","legend":null,"scale":{"domain":["predict","estimate"],"range":["#000000","#1f77b4"]}}}},
      {"transform":[{"filter":"datum.kind == 'predict'"}],"mark":{"type":"line","strokeWidth":3},"encoding":{"stroke":{"field":"kind","type":"nominal","title":null,"scale":{"domain":["predict","conf. 95.0%","estimate"],"range":["#000000","transparent","#1f77b4"]}},"strokeDash":{"field":"kind","type":"nominal","title":null,"scale":{"domain":["predict","conf. 95.0%","estimate"],"range":[[1,0],[1,0],[11,4.8]]}}}},
      {"transform":[{"filter":"datum.kind == 'estimate'"}],"mark":{"type":"line","strokeWidth":3},"encoding":{"stroke":{"field":"kind","type":"nominal","title":null,"scale":{"domain":["predict","conf. 95.0%","estimate"],"range":["#000000","transparent","#1f77b4"]}},"strokeDash":{"field":"kind","type":"nominal","title":null,"scale":{"domain":["predict","conf. 95.0%","estimate"],"range":[[1,0],[1,0],[11,4.8]]}}}},
      {"transform":[{"filter":"datum.kind == 'predict' && datum.lag == 0"}],"mark":{"type":"text","fontWeight":"bold","align":"left","baseline":"alphabetic"},"encoding":{"x":{"datum":0.25,"type":"quantitative"},"y":{"datum":0.05,"type":"quantitative"},"text":{"field":"cell"}}}
    ]},
    {"transform":[{"filter":"datum.cell == '2 -> 2'"}],"encoding":{"x":{"field":"lag","type":"quantitative","scale":{"domain":[-2.5,52.5],"nice":false,"zero":false},"axis":{"values":[0,20,40],"labels":false,"title":null}},"y":{"field":"prob","type":"quantitative","scale":{"domain":[0,1],"nice":false},"axis":{"values":[0,0.2,0.4,0.6,0.8,1],"format":".1f","labels":false,"title":null}}},"layer":[
      {"mark":{"type":"area","opacity":0.25},"encoding":{"y":{"field":"lo","type":"quantitative"},"y2":{"field":"hi"},"fill":{"field":"kind","type":"nominal","legend":null,"scale":{"domain":["predict","estimate"],"range":["#000000","#1f77b4"]}}}},
      {"transform":[{"filter":"datum.kind == 'predict'"}],"mark":{"type":"line","strokeWidth":3},"encoding":{"stroke":{"field":"kind","type":"nominal","title":null,"scale":{"domain":["predict","conf. 95.0%","estimate"],"range":["#000000","transparent","#1f77b4"]}},"strokeDash":{"field":"kind","type":"nominal","title":null,"scale":{"domain":["predict","conf. 95.0%","estimate"],"range":[[1,0],[1,0],[11,4.8]]}}}},
      {"transform":[{"filter":"datum.kind == 'estimate'"}],"mark":{"type":"line","strokeWidth":3},"encoding":{"stroke":{"field":"kind","type":"nominal","title":null,"scale":{"domain":["predict","conf. 95.0%","estimate"],"range":["#000000","transparent","#1f77b4"]}},"strokeDash":{"field":"kind","type":"nominal","title":null,"scale":{"domain":["predict","conf. 95.0%","estimate"],"range":[[1,0],[1,0],[11,4.8]]}}}},
      {"transform":[{"filter":"datum.kind == 'predict' && datum.lag == 0"}],"mark":{"type":"text","fontWeight":"bold","align":"left","baseline":"alphabetic"},"encoding":{"x":{"datum":0.25,"type":"quantitative"},"y":{"datum":0.05,"type":"quantitative"},"text":{"field":"cell"}}}
    ]},
    {"transform":[{"filter":"datum.cell == '2 -> 3'"}],"encoding":{"x":{"field":"lag","type":"quantitative","scale":{"domain":[-2.5,52.5],"nice":false,"zero":false},"axis":{"values":[0,20,40],"labels":false,"title":null}},"y":{"field":"prob","type":"quantitative","scale":{"domain":[0,1],"nice":false},"axis":{"values":[0,0.2,0.4,0.6,0.8,1],"format":".1f","labels":false,"title":null}}},"layer":[
      {"mark":{"type":"area","opacity":0.25},"encoding":{"y":{"field":"lo","type":"quantitative"},"y2":{"field":"hi"},"fill":{"field":"kind","type":"nominal","legend":null,"scale":{"domain":["predict","estimate"],"range":["#000000","#1f77b4"]}}}},
      {"transform":[{"filter":"datum.kind == 'predict'"}],"mark":{"type":"line","strokeWidth":3},"encoding":{"stroke":{"field":"kind","type":"nominal","title":null,"scale":{"domain":["predict","conf. 95.0%","estimate"],"range":["#000000","transparent","#1f77b4"]}},"strokeDash":{"field":"kind","type":"nominal","title":null,"scale":{"domain":["predict","conf. 95.0%","estimate"],"range":[[1,0],[1,0],[11,4.8]]}}}},
      {"transform":[{"filter":"datum.kind == 'estimate'"}],"mark":{"type":"line","strokeWidth":3},"encoding":{"stroke":{"field":"kind","type":"nominal","title":null,"scale":{"domain":["predict","conf. 95.0%","estimate"],"range":["#000000","transparent","#1f77b4"]}},"strokeDash":{"field":"kind","type":"nominal","title":null,"scale":{"domain":["predict","conf. 95.0%","estimate"],"range":[[1,0],[1,0],[11,4.8]]}}}},
      {"transform":[{"filter":"datum.kind == 'predict' && datum.lag == 0"}],"mark":{"type":"text","fontWeight":"bold","align":"left","baseline":"alphabetic"},"encoding":{"x":{"datum":0.25,"type":"quantitative"},"y":{"datum":0.05,"type":"quantitative"},"text":{"field":"cell"}}}
    ]},
    {"transform":[{"filter":"datum.cell == '2 -> 4'"}],"encoding":{"x":{"field":"lag","type":"quantitative","scale":{"domain":[-2.5,52.5],"nice":false,"zero":false},"axis":{"values":[0,20,40],"labels":false,"title":null}},"y":{"field":"prob","type":"quantitative","scale":{"domain":[0,1],"nice":false},"axis":{"values":[0,0.2,0.4,0.6,0.8,1],"format":".1f","labels":false,"title":null}}},"layer":[
      {"mark":{"type":"area","opacity":0.25},"encoding":{"y":{"field":"lo","type":"quantitative"},"y2":{"field":"hi"},"fill":{"field":"kind","type":"nominal","legend":null,"scale":{"domain":["predict","estimate"],"range":["#000000","#1f77b4"]}}}},
      {"transform":[{"filter":"datum.kind == 'predict'"}],"mark":{"type":"line","strokeWidth":3},"encoding":{"stroke":{"field":"kind","type":"nominal","title":null,"scale":{"domain":["predict","conf. 95.0%","estimate"],"range":["#000000","transparent","#1f77b4"]}},"strokeDash":{"field":"kind","type":"nominal","title":null,"scale":{"domain":["predict","conf. 95.0%","estimate"],"range":[[1,0],[1,0],[11,4.8]]}}}},
      {"transform":[{"filter":"datum.kind == 'estimate'"}],"mark":{"type":"line","strokeWidth":3},"encoding":{"stroke":{"field":"kind","type":"nominal","title":null,"scale":{"domain":["predict","conf. 95.0%","estimate"],"range":["#000000","transparent","#1f77b4"]}},"strokeDash":{"field":"kind","type":"nominal","title":null,"scale":{"domain":["predict","conf. 95.0%","estimate"],"range":[[1,0],[1,0],[11,4.8]]}}}},
      {"transform":[{"filter":"datum.kind == 'predict' && datum.lag == 0"}],"mark":{"type":"text","fontWeight":"bold","align":"left","baseline":"alphabetic"},"encoding":{"x":{"datum":0.25,"type":"quantitative"},"y":{"datum":0.05,"type":"quantitative"},"text":{"field":"cell"}}}
    ]},
    {"transform":[{"filter":"datum.cell == '2 -> 5'"}],"encoding":{"x":{"field":"lag","type":"quantitative","scale":{"domain":[-2.5,52.5],"nice":false,"zero":false},"axis":{"values":[0,20,40],"labels":false,"title":null}},"y":{"field":"prob","type":"quantitative","scale":{"domain":[0,1],"nice":false},"axis":{"values":[0,0.2,0.4,0.6,0.8,1],"format":".1f","labels":false,"title":null}}},"layer":[
      {"mark":{"type":"area","opacity":0.25},"encoding":{"y":{"field":"lo","type":"quantitative"},"y2":{"field":"hi"},"fill":{"field":"kind","type":"nominal","legend":null,"scale":{"domain":["predict","estimate"],"range":["#000000","#1f77b4"]}}}},
      {"transform":[{"filter":"datum.kind == 'predict'"}],"mark":{"type":"line","strokeWidth":3},"encoding":{"stroke":{"field":"kind","type":"nominal","title":null,"scale":{"domain":["predict","conf. 95.0%","estimate"],"range":["#000000","transparent","#1f77b4"]}},"strokeDash":{"field":"kind","type":"nominal","title":null,"scale":{"domain":["predict","conf. 95.0%","estimate"],"range":[[1,0],[1,0],[11,4.8]]}}}},
      {"transform":[{"filter":"datum.kind == 'estimate'"}],"mark":{"type":"line","strokeWidth":3},"encoding":{"stroke":{"field":"kind","type":"nominal","title":null,"scale":{"domain":["predict","conf. 95.0%","estimate"],"range":["#000000","transparent","#1f77b4"]}},"strokeDash":{"field":"kind","type":"nominal","title":null,"scale":{"domain":["predict","conf. 95.0%","estimate"],"range":[[1,0],[1,0],[11,4.8]]}}}},
      {"transform":[{"filter":"datum.kind == 'predict' && datum.lag == 0"}],"mark":{"type":"text","fontWeight":"bold","align":"left","baseline":"alphabetic"},"encoding":{"x":{"datum":0.25,"type":"quantitative"},"y":{"datum":0.05,"type":"quantitative"},"text":{"field":"cell"}}}
    ]},

    {"transform":[{"filter":"datum.cell == '3 -> 1'"}],"encoding":{"x":{"field":"lag","type":"quantitative","scale":{"domain":[-2.5,52.5],"nice":false,"zero":false},"axis":{"values":[0,20,40],"labels":false,"title":null}},"y":{"field":"prob","type":"quantitative","scale":{"domain":[0,1],"nice":false},"axis":{"values":[0,0.2,0.4,0.6,0.8,1],"format":".1f","labels":true,"title":"probability"}}},"layer":[
      {"mark":{"type":"area","opacity":0.25},"encoding":{"y":{"field":"lo","type":"quantitative"},"y2":{"field":"hi"},"fill":{"field":"kind","type":"nominal","legend":null,"scale":{"domain":["predict","estimate"],"range":["#000000","#1f77b4"]}}}},
      {"transform":[{"filter":"datum.kind == 'predict'"}],"mark":{"type":"line","strokeWidth":3},"encoding":{"stroke":{"field":"kind","type":"nominal","title":null,"scale":{"domain":["predict","conf. 95.0%","estimate"],"range":["#000000","transparent","#1f77b4"]}},"strokeDash":{"field":"kind","type":"nominal","title":null,"scale":{"domain":["predict","conf. 95.0%","estimate"],"range":[[1,0],[1,0],[11,4.8]]}}}},
      {"transform":[{"filter":"datum.kind == 'estimate'"}],"mark":{"type":"line","strokeWidth":3},"encoding":{"stroke":{"field":"kind","type":"nominal","title":null,"scale":{"domain":["predict","conf. 95.0%","estimate"],"range":["#000000","transparent","#1f77b4"]}},"strokeDash":{"field":"kind","type":"nominal","title":null,"scale":{"domain":["predict","conf. 95.0%","estimate"],"range":[[1,0],[1,0],[11,4.8]]}}}},
      {"transform":[{"filter":"datum.kind == 'predict' && datum.lag == 0"}],"mark":{"type":"text","fontWeight":"bold","align":"left","baseline":"alphabetic"},"encoding":{"x":{"datum":0.25,"type":"quantitative"},"y":{"datum":0.05,"type":"quantitative"},"text":{"field":"cell"}}}
    ]},
    {"transform":[{"filter":"datum.cell == '3 -> 2'"}],"encoding":{"x":{"field":"lag","type":"quantitative","scale":{"domain":[-2.5,52.5],"nice":false,"zero":false},"axis":{"values":[0,20,40],"labels":false,"title":null}},"y":{"field":"prob","type":"quantitative","scale":{"domain":[0,1],"nice":false},"axis":{"values":[0,0.2,0.4,0.6,0.8,1],"format":".1f","labels":false,"title":null}}},"layer":[
      {"mark":{"type":"area","opacity":0.25},"encoding":{"y":{"field":"lo","type":"quantitative"},"y2":{"field":"hi"},"fill":{"field":"kind","type":"nominal","legend":null,"scale":{"domain":["predict","estimate"],"range":["#000000","#1f77b4"]}}}},
      {"transform":[{"filter":"datum.kind == 'predict'"}],"mark":{"type":"line","strokeWidth":3},"encoding":{"stroke":{"field":"kind","type":"nominal","title":null,"scale":{"domain":["predict","conf. 95.0%","estimate"],"range":["#000000","transparent","#1f77b4"]}},"strokeDash":{"field":"kind","type":"nominal","title":null,"scale":{"domain":["predict","conf. 95.0%","estimate"],"range":[[1,0],[1,0],[11,4.8]]}}}},
      {"transform":[{"filter":"datum.kind == 'estimate'"}],"mark":{"type":"line","strokeWidth":3},"encoding":{"stroke":{"field":"kind","type":"nominal","title":null,"scale":{"domain":["predict","conf. 95.0%","estimate"],"range":["#000000","transparent","#1f77b4"]}},"strokeDash":{"field":"kind","type":"nominal","title":null,"scale":{"domain":["predict","conf. 95.0%","estimate"],"range":[[1,0],[1,0],[11,4.8]]}}}},
      {"transform":[{"filter":"datum.kind == 'predict' && datum.lag == 0"}],"mark":{"type":"text","fontWeight":"bold","align":"left","baseline":"alphabetic"},"encoding":{"x":{"datum":0.25,"type":"quantitative"},"y":{"datum":0.05,"type":"quantitative"},"text":{"field":"cell"}}}
    ]},
    {"transform":[{"filter":"datum.cell == '3 -> 3'"}],"encoding":{"x":{"field":"lag","type":"quantitative","scale":{"domain":[-2.5,52.5],"nice":false,"zero":false},"axis":{"values":[0,20,40],"labels":false,"title":null}},"y":{"field":"prob","type":"quantitative","scale":{"domain":[0,1],"nice":false},"axis":{"values":[0,0.2,0.4,0.6,0.8,1],"format":".1f","labels":false,"title":null}}},"layer":[
      {"mark":{"type":"area","opacity":0.25},"encoding":{"y":{"field":"lo","type":"quantitative"},"y2":{"field":"hi"},"fill":{"field":"kind","type":"nominal","legend":null,"scale":{"domain":["predict","estimate"],"range":["#000000","#1f77b4"]}}}},
      {"transform":[{"filter":"datum.kind == 'predict'"}],"mark":{"type":"line","strokeWidth":3},"encoding":{"stroke":{"field":"kind","type":"nominal","title":null,"scale":{"domain":["predict","conf. 95.0%","estimate"],"range":["#000000","transparent","#1f77b4"]}},"strokeDash":{"field":"kind","type":"nominal","title":null,"scale":{"domain":["predict","conf. 95.0%","estimate"],"range":[[1,0],[1,0],[11,4.8]]}}}},
      {"transform":[{"filter":"datum.kind == 'estimate'"}],"mark":{"type":"line","strokeWidth":3},"encoding":{"stroke":{"field":"kind","type":"nominal","title":null,"scale":{"domain":["predict","conf. 95.0%","estimate"],"range":["#000000","transparent","#1f77b4"]}},"strokeDash":{"field":"kind","type":"nominal","title":null,"scale":{"domain":["predict","conf. 95.0%","estimate"],"range":[[1,0],[1,0],[11,4.8]]}}}},
      {"transform":[{"filter":"datum.kind == 'predict' && datum.lag == 0"}],"mark":{"type":"text","fontWeight":"bold","align":"left","baseline":"alphabetic"},"encoding":{"x":{"datum":0.25,"type":"quantitative"},"y":{"datum":0.05,"type":"quantitative"},"text":{"field":"cell"}}}
    ]},
    {"transform":[{"filter":"datum.cell == '3 -> 4'"}],"encoding":{"x":{"field":"lag","type":"quantitative","scale":{"domain":[-2.5,52.5],"nice":false,"zero":false},"axis":{"values":[0,20,40],"labels":false,"title":null}},"y":{"field":"prob","type":"quantitative","scale":{"domain":[0,1],"nice":false},"axis":{"values":[0,0.2,0.4,0.6,0.8,1],"format":".1f","labels":false,"title":null}}},"layer":[
      {"mark":{"type":"area","opacity":0.25},"encoding":{"y":{"field":"lo","type":"quantitative"},"y2":{"field":"hi"},"fill":{"field":"kind","type":"nominal","legend":null,"scale":{"domain":["predict","estimate"],"range":["#000000","#1f77b4"]}}}},
      {"transform":[{"filter":"datum.kind == 'predict'"}],"mark":{"type":"line","strokeWidth":3},"encoding":{"stroke":{"field":"kind","type":"nominal","title":null,"scale":{"domain":["predict","conf. 95.0%","estimate"],"range":["#000000","transparent","#1f77b4"]}},"strokeDash":{"field":"kind","type":"nominal","title":null,"scale":{"domain":["predict","conf. 95.0%","estimate"],"range":[[1,0],[1,0],[11,4.8]]}}}},
      {"transform":[{"filter":"datum.kind == 'estimate'"}],"mark":{"type":"line","strokeWidth":3},"encoding":{"stroke":{"field":"kind","type":"nominal","title":null,"scale":{"domain":["predict","conf. 95.0%","estimate"],"range":["#000000","transparent","#1f77b4"]}},"strokeDash":{"field":"kind","type":"nominal","title":null,"scale":{"domain":["predict","conf. 95.0%","estimate"],"range":[[1,0],[1,0],[11,4.8]]}}}},
      {"transform":[{"filter":"datum.kind == 'predict' && datum.lag == 0"}],"mark":{"type":"text","fontWeight":"bold","align":"left","baseline":"alphabetic"},"encoding":{"x":{"datum":0.25,"type":"quantitative"},"y":{"datum":0.05,"type":"quantitative"},"text":{"field":"cell"}}}
    ]},
    {"transform":[{"filter":"datum.cell == '3 -> 5'"}],"encoding":{"x":{"field":"lag","type":"quantitative","scale":{"domain":[-2.5,52.5],"nice":false,"zero":false},"axis":{"values":[0,20,40],"labels":false,"title":null}},"y":{"field":"prob","type":"quantitative","scale":{"domain":[0,1],"nice":false},"axis":{"values":[0,0.2,0.4,0.6,0.8,1],"format":".1f","labels":false,"title":null}}},"layer":[
      {"mark":{"type":"area","opacity":0.25},"encoding":{"y":{"field":"lo","type":"quantitative"},"y2":{"field":"hi"},"fill":{"field":"kind","type":"nominal","legend":null,"scale":{"domain":["predict","estimate"],"range":["#000000","#1f77b4"]}}}},
      {"transform":[{"filter":"datum.kind == 'predict'"}],"mark":{"type":"line","strokeWidth":3},"encoding":{"stroke":{"field":"kind","type":"nominal","title":null,"scale":{"domain":["predict","conf. 95.0%","estimate"],"range":["#000000","transparent","#1f77b4"]}},"strokeDash":{"field":"kind","type":"nominal","title":null,"scale":{"domain":["predict","conf. 95.0%","estimate"],"range":[[1,0],[1,0],[11,4.8]]}}}},
      {"transform":[{"filter":"datum.kind == 'estimate'"}],"mark":{"type":"line","strokeWidth":3},"encoding":{"stroke":{"field":"kind","type":"nominal","title":null,"scale":{"domain":["predict","conf. 95.0%","estimate"],"range":["#000000","transparent","#1f77b4"]}},"strokeDash":{"field":"kind","type":"nominal","title":null,"scale":{"domain":["predict","conf. 95.0%","estimate"],"range":[[1,0],[1,0],[11,4.8]]}}}},
      {"transform":[{"filter":"datum.kind == 'predict' && datum.lag == 0"}],"mark":{"type":"text","fontWeight":"bold","align":"left","baseline":"alphabetic"},"encoding":{"x":{"datum":0.25,"type":"quantitative"},"y":{"datum":0.05,"type":"quantitative"},"text":{"field":"cell"}}}
    ]},

    {"transform":[{"filter":"datum.cell == '4 -> 1'"}],"encoding":{"x":{"field":"lag","type":"quantitative","scale":{"domain":[-2.5,52.5],"nice":false,"zero":false},"axis":{"values":[0,20,40],"labels":false,"title":null}},"y":{"field":"prob","type":"quantitative","scale":{"domain":[0,1],"nice":false},"axis":{"values":[0,0.2,0.4,0.6,0.8,1],"format":".1f","labels":true,"title":"probability"}}},"layer":[
      {"mark":{"type":"area","opacity":0.25},"encoding":{"y":{"field":"lo","type":"quantitative"},"y2":{"field":"hi"},"fill":{"field":"kind","type":"nominal","legend":null,"scale":{"domain":["predict","estimate"],"range":["#000000","#1f77b4"]}}}},
      {"transform":[{"filter":"datum.kind == 'predict'"}],"mark":{"type":"line","strokeWidth":3},"encoding":{"stroke":{"field":"kind","type":"nominal","title":null,"scale":{"domain":["predict","conf. 95.0%","estimate"],"range":["#000000","transparent","#1f77b4"]}},"strokeDash":{"field":"kind","type":"nominal","title":null,"scale":{"domain":["predict","conf. 95.0%","estimate"],"range":[[1,0],[1,0],[11,4.8]]}}}},
      {"transform":[{"filter":"datum.kind == 'estimate'"}],"mark":{"type":"line","strokeWidth":3},"encoding":{"stroke":{"field":"kind","type":"nominal","title":null,"scale":{"domain":["predict","conf. 95.0%","estimate"],"range":["#000000","transparent","#1f77b4"]}},"strokeDash":{"field":"kind","type":"nominal","title":null,"scale":{"domain":["predict","conf. 95.0%","estimate"],"range":[[1,0],[1,0],[11,4.8]]}}}},
      {"transform":[{"filter":"datum.kind == 'predict' && datum.lag == 0"}],"mark":{"type":"text","fontWeight":"bold","align":"left","baseline":"alphabetic"},"encoding":{"x":{"datum":0.25,"type":"quantitative"},"y":{"datum":0.05,"type":"quantitative"},"text":{"field":"cell"}}}
    ]},
    {"transform":[{"filter":"datum.cell == '4 -> 2'"}],"encoding":{"x":{"field":"lag","type":"quantitative","scale":{"domain":[-2.5,52.5],"nice":false,"zero":false},"axis":{"values":[0,20,40],"labels":false,"title":null}},"y":{"field":"prob","type":"quantitative","scale":{"domain":[0,1],"nice":false},"axis":{"values":[0,0.2,0.4,0.6,0.8,1],"format":".1f","labels":false,"title":null}}},"layer":[
      {"mark":{"type":"area","opacity":0.25},"encoding":{"y":{"field":"lo","type":"quantitative"},"y2":{"field":"hi"},"fill":{"field":"kind","type":"nominal","legend":null,"scale":{"domain":["predict","estimate"],"range":["#000000","#1f77b4"]}}}},
      {"transform":[{"filter":"datum.kind == 'predict'"}],"mark":{"type":"line","strokeWidth":3},"encoding":{"stroke":{"field":"kind","type":"nominal","title":null,"scale":{"domain":["predict","conf. 95.0%","estimate"],"range":["#000000","transparent","#1f77b4"]}},"strokeDash":{"field":"kind","type":"nominal","title":null,"scale":{"domain":["predict","conf. 95.0%","estimate"],"range":[[1,0],[1,0],[11,4.8]]}}}},
      {"transform":[{"filter":"datum.kind == 'estimate'"}],"mark":{"type":"line","strokeWidth":3},"encoding":{"stroke":{"field":"kind","type":"nominal","title":null,"scale":{"domain":["predict","conf. 95.0%","estimate"],"range":["#000000","transparent","#1f77b4"]}},"strokeDash":{"field":"kind","type":"nominal","title":null,"scale":{"domain":["predict","conf. 95.0%","estimate"],"range":[[1,0],[1,0],[11,4.8]]}}}},
      {"transform":[{"filter":"datum.kind == 'predict' && datum.lag == 0"}],"mark":{"type":"text","fontWeight":"bold","align":"left","baseline":"alphabetic"},"encoding":{"x":{"datum":0.25,"type":"quantitative"},"y":{"datum":0.05,"type":"quantitative"},"text":{"field":"cell"}}}
    ]},
    {"transform":[{"filter":"datum.cell == '4 -> 3'"}],"encoding":{"x":{"field":"lag","type":"quantitative","scale":{"domain":[-2.5,52.5],"nice":false,"zero":false},"axis":{"values":[0,20,40],"labels":false,"title":null}},"y":{"field":"prob","type":"quantitative","scale":{"domain":[0,1],"nice":false},"axis":{"values":[0,0.2,0.4,0.6,0.8,1],"format":".1f","labels":false,"title":null}}},"layer":[
      {"mark":{"type":"area","opacity":0.25},"encoding":{"y":{"field":"lo","type":"quantitative"},"y2":{"field":"hi"},"fill":{"field":"kind","type":"nominal","legend":null,"scale":{"domain":["predict","estimate"],"range":["#000000","#1f77b4"]}}}},
      {"transform":[{"filter":"datum.kind == 'predict'"}],"mark":{"type":"line","strokeWidth":3},"encoding":{"stroke":{"field":"kind","type":"nominal","title":null,"scale":{"domain":["predict","conf. 95.0%","estimate"],"range":["#000000","transparent","#1f77b4"]}},"strokeDash":{"field":"kind","type":"nominal","title":null,"scale":{"domain":["predict","conf. 95.0%","estimate"],"range":[[1,0],[1,0],[11,4.8]]}}}},
      {"transform":[{"filter":"datum.kind == 'estimate'"}],"mark":{"type":"line","strokeWidth":3},"encoding":{"stroke":{"field":"kind","type":"nominal","title":null,"scale":{"domain":["predict","conf. 95.0%","estimate"],"range":["#000000","transparent","#1f77b4"]}},"strokeDash":{"field":"kind","type":"nominal","title":null,"scale":{"domain":["predict","conf. 95.0%","estimate"],"range":[[1,0],[1,0],[11,4.8]]}}}},
      {"transform":[{"filter":"datum.kind == 'predict' && datum.lag == 0"}],"mark":{"type":"text","fontWeight":"bold","align":"left","baseline":"alphabetic"},"encoding":{"x":{"datum":0.25,"type":"quantitative"},"y":{"datum":0.05,"type":"quantitative"},"text":{"field":"cell"}}}
    ]},
    {"transform":[{"filter":"datum.cell == '4 -> 4'"}],"encoding":{"x":{"field":"lag","type":"quantitative","scale":{"domain":[-2.5,52.5],"nice":false,"zero":false},"axis":{"values":[0,20,40],"labels":false,"title":null}},"y":{"field":"prob","type":"quantitative","scale":{"domain":[0,1],"nice":false},"axis":{"values":[0,0.2,0.4,0.6,0.8,1],"format":".1f","labels":false,"title":null}}},"layer":[
      {"mark":{"type":"area","opacity":0.25},"encoding":{"y":{"field":"lo","type":"quantitative"},"y2":{"field":"hi"},"fill":{"field":"kind","type":"nominal","legend":null,"scale":{"domain":["predict","estimate"],"range":["#000000","#1f77b4"]}}}},
      {"transform":[{"filter":"datum.kind == 'predict'"}],"mark":{"type":"line","strokeWidth":3},"encoding":{"stroke":{"field":"kind","type":"nominal","title":null,"scale":{"domain":["predict","conf. 95.0%","estimate"],"range":["#000000","transparent","#1f77b4"]}},"strokeDash":{"field":"kind","type":"nominal","title":null,"scale":{"domain":["predict","conf. 95.0%","estimate"],"range":[[1,0],[1,0],[11,4.8]]}}}},
      {"transform":[{"filter":"datum.kind == 'estimate'"}],"mark":{"type":"line","strokeWidth":3},"encoding":{"stroke":{"field":"kind","type":"nominal","title":null,"scale":{"domain":["predict","conf. 95.0%","estimate"],"range":["#000000","transparent","#1f77b4"]}},"strokeDash":{"field":"kind","type":"nominal","title":null,"scale":{"domain":["predict","conf. 95.0%","estimate"],"range":[[1,0],[1,0],[11,4.8]]}}}},
      {"transform":[{"filter":"datum.kind == 'predict' && datum.lag == 0"}],"mark":{"type":"text","fontWeight":"bold","align":"left","baseline":"alphabetic"},"encoding":{"x":{"datum":0.25,"type":"quantitative"},"y":{"datum":0.05,"type":"quantitative"},"text":{"field":"cell"}}}
    ]},
    {"transform":[{"filter":"datum.cell == '4 -> 5'"}],"encoding":{"x":{"field":"lag","type":"quantitative","scale":{"domain":[-2.5,52.5],"nice":false,"zero":false},"axis":{"values":[0,20,40],"labels":false,"title":null}},"y":{"field":"prob","type":"quantitative","scale":{"domain":[0,1],"nice":false},"axis":{"values":[0,0.2,0.4,0.6,0.8,1],"format":".1f","labels":false,"title":null}}},"layer":[
      {"mark":{"type":"area","opacity":0.25},"encoding":{"y":{"field":"lo","type":"quantitative"},"y2":{"field":"hi"},"fill":{"field":"kind","type":"nominal","legend":null,"scale":{"domain":["predict","estimate"],"range":["#000000","#1f77b4"]}}}},
      {"transform":[{"filter":"datum.kind == 'predict'"}],"mark":{"type":"line","strokeWidth":3},"encoding":{"stroke":{"field":"kind","type":"nominal","title":null,"scale":{"domain":["predict","conf. 95.0%","estimate"],"range":["#000000","transparent","#1f77b4"]}},"strokeDash":{"field":"kind","type":"nominal","title":null,"scale":{"domain":["predict","conf. 95.0%","estimate"],"range":[[1,0],[1,0],[11,4.8]]}}}},
      {"transform":[{"filter":"datum.kind == 'estimate'"}],"mark":{"type":"line","strokeWidth":3},"encoding":{"stroke":{"field":"kind","type":"nominal","title":null,"scale":{"domain":["predict","conf. 95.0%","estimate"],"range":["#000000","transparent","#1f77b4"]}},"strokeDash":{"field":"kind","type":"nominal","title":null,"scale":{"domain":["predict","conf. 95.0%","estimate"],"range":[[1,0],[1,0],[11,4.8]]}}}},
      {"transform":[{"filter":"datum.kind == 'predict' && datum.lag == 0"}],"mark":{"type":"text","fontWeight":"bold","align":"left","baseline":"alphabetic"},"encoding":{"x":{"datum":0.25,"type":"quantitative"},"y":{"datum":0.05,"type":"quantitative"},"text":{"field":"cell"}}}
    ]},

    {"transform":[{"filter":"datum.cell == '5 -> 1'"}],"encoding":{"x":{"field":"lag","type":"quantitative","scale":{"domain":[-2.5,52.5],"nice":false,"zero":false},"axis":{"values":[0,20,40],"labels":true,"title":"lagtime (steps)"}},"y":{"field":"prob","type":"quantitative","scale":{"domain":[0,1],"nice":false},"axis":{"values":[0,0.2,0.4,0.6,0.8,1],"format":".1f","labels":true,"title":"probability"}}},"layer":[
      {"mark":{"type":"area","opacity":0.25},"encoding":{"y":{"field":"lo","type":"quantitative"},"y2":{"field":"hi"},"fill":{"field":"kind","type":"nominal","legend":null,"scale":{"domain":["predict","estimate"],"range":["#000000","#1f77b4"]}}}},
      {"transform":[{"filter":"datum.kind == 'predict'"}],"mark":{"type":"line","strokeWidth":3},"encoding":{"stroke":{"field":"kind","type":"nominal","title":null,"scale":{"domain":["predict","conf. 95.0%","estimate"],"range":["#000000","transparent","#1f77b4"]}},"strokeDash":{"field":"kind","type":"nominal","title":null,"scale":{"domain":["predict","conf. 95.0%","estimate"],"range":[[1,0],[1,0],[11,4.8]]}}}},
      {"transform":[{"filter":"datum.kind == 'estimate'"}],"mark":{"type":"line","strokeWidth":3},"encoding":{"stroke":{"field":"kind","type":"nominal","title":null,"scale":{"domain":["predict","conf. 95.0%","estimate"],"range":["#000000","transparent","#1f77b4"]}},"strokeDash":{"field":"kind","type":"nominal","title":null,"scale":{"domain":["predict","conf. 95.0%","estimate"],"range":[[1,0],[1,0],[11,4.8]]}}}},
      {"transform":[{"filter":"datum.kind == 'predict' && datum.lag == 0"}],"mark":{"type":"text","fontWeight":"bold","align":"left","baseline":"alphabetic"},"encoding":{"x":{"datum":0.25,"type":"quantitative"},"y":{"datum":0.05,"type":"quantitative"},"text":{"field":"cell"}}}
    ]},
    {"transform":[{"filter":"datum.cell == '5 -> 2'"}],"encoding":{"x":{"field":"lag","type":"quantitative","scale":{"domain":[-2.5,52.5],"nice":false,"zero":false},"axis":{"values":[0,20,40],"labels":true,"title":"lagtime (steps)"}},"y":{"field":"prob","type":"quantitative","scale":{"domain":[0,1],"nice":false},"axis":{"values":[0,0.2,0.4,0.6,0.8,1],"format":".1f","labels":false,"title":null}}},"layer":[
      {"mark":{"type":"area","opacity":0.25},"encoding":{"y":{"field":"lo","type":"quantitative"},"y2":{"field":"hi"},"fill":{"field":"kind","type":"nominal","legend":null,"scale":{"domain":["predict","estimate"],"range":["#000000","#1f77b4"]}}}},
      {"transform":[{"filter":"datum.kind == 'predict'"}],"mark":{"type":"line","strokeWidth":3},"encoding":{"stroke":{"field":"kind","type":"nominal","title":null,"scale":{"domain":["predict","conf. 95.0%","estimate"],"range":["#000000","transparent","#1f77b4"]}},"strokeDash":{"field":"kind","type":"nominal","title":null,"scale":{"domain":["predict","conf. 95.0%","estimate"],"range":[[1,0],[1,0],[11,4.8]]}}}},
      {"transform":[{"filter":"datum.kind == 'estimate'"}],"mark":{"type":"line","strokeWidth":3},"encoding":{"stroke":{"field":"kind","type":"nominal","title":null,"scale":{"domain":["predict","conf. 95.0%","estimate"],"range":["#000000","transparent","#1f77b4"]}},"strokeDash":{"field":"kind","type":"nominal","title":null,"scale":{"domain":["predict","conf. 95.0%","estimate"],"range":[[1,0],[1,0],[11,4.8]]}}}},
      {"transform":[{"filter":"datum.kind == 'predict' && datum.lag == 0"}],"mark":{"type":"text","fontWeight":"bold","align":"left","baseline":"alphabetic"},"encoding":{"x":{"datum":0.25,"type":"quantitative"},"y":{"datum":0.05,"type":"quantitative"},"text":{"field":"cell"}}}
    ]},
    {"transform":[{"filter":"datum.cell == '5 -> 3'"}],"encoding":{"x":{"field":"lag","type":"quantitative","scale":{"domain":[-2.5,52.5],"nice":false,"zero":false},"axis":{"values":[0,20,40],"labels":true,"title":"lagtime (steps)"}},"y":{"field":"prob","type":"quantitative","scale":{"domain":[0,1],"nice":false},"axis":{"values":[0,0.2,0.4,0.6,0.8,1],"format":".1f","labels":false,"title":null}}},"layer":[
      {"mark":{"type":"area","opacity":0.25},"encoding":{"y":{"field":"lo","type":"quantitative"},"y2":{"field":"hi"},"fill":{"field":"kind","type":"nominal","legend":null,"scale":{"domain":["predict","estimate"],"range":["#000000","#1f77b4"]}}}},
      {"transform":[{"filter":"datum.kind == 'predict'"}],"mark":{"type":"line","strokeWidth":3},"encoding":{"stroke":{"field":"kind","type":"nominal","title":null,"scale":{"domain":["predict","conf. 95.0%","estimate"],"range":["#000000","transparent","#1f77b4"]}},"strokeDash":{"field":"kind","type":"nominal","title":null,"scale":{"domain":["predict","conf. 95.0%","estimate"],"range":[[1,0],[1,0],[11,4.8]]}}}},
      {"transform":[{"filter":"datum.kind == 'estimate'"}],"mark":{"type":"line","strokeWidth":3},"encoding":{"stroke":{"field":"kind","type":"nominal","title":null,"scale":{"domain":["predict","conf. 95.0%","estimate"],"range":["#000000","transparent","#1f77b4"]}},"strokeDash":{"field":"kind","type":"nominal","title":null,"scale":{"domain":["predict","conf. 95.0%","estimate"],"range":[[1,0],[1,0],[11,4.8]]}}}},
      {"transform":[{"filter":"datum.kind == 'predict' && datum.lag == 0"}],"mark":{"type":"text","fontWeight":"bold","align":"left","baseline":"alphabetic"},"encoding":{"x":{"datum":0.25,"type":"quantitative"},"y":{"datum":0.05,"type":"quantitative"},"text":{"field":"cell"}}}
    ]},
    {"transform":[{"filter":"datum.cell == '5 -> 4'"}],"encoding":{"x":{"field":"lag","type":"quantitative","scale":{"domain":[-2.5,52.5],"nice":false,"zero":false},"axis":{"values":[0,20,40],"labels":true,"title":"lagtime (steps)"}},"y":{"field":"prob","type":"quantitative","scale":{"domain":[0,1],"nice":false},"axis":{"values":[0,0.2,0.4,0.6,0.8,1],"format":".1f","labels":false,"title":null}}},"layer":[
      {"mark":{"type":"area","opacity":0.25},"encoding":{"y":{"field":"lo","type":"quantitative"},"y2":{"field":"hi"},"fill":{"field":"kind","type":"nominal","legend":null,"scale":{"domain":["predict","estimate"],"range":["#000000","#1f77b4"]}}}},
      {"transform":[{"filter":"datum.kind == 'predict'"}],"mark":{"type":"line","strokeWidth":3},"encoding":{"stroke":{"field":"kind","type":"nominal","title":null,"scale":{"domain":["predict","conf. 95.0%","estimate"],"range":["#000000","transparent","#1f77b4"]}},"strokeDash":{"field":"kind","type":"nominal","title":null,"scale":{"domain":["predict","conf. 95.0%","estimate"],"range":[[1,0],[1,0],[11,4.8]]}}}},
      {"transform":[{"filter":"datum.kind == 'estimate'"}],"mark":{"type":"line","strokeWidth":3},"encoding":{"stroke":{"field":"kind","type":"nominal","title":null,"scale":{"domain":["predict","conf. 95.0%","estimate"],"range":["#000000","transparent","#1f77b4"]}},"strokeDash":{"field":"kind","type":"nominal","title":null,"scale":{"domain":["predict","conf. 95.0%","estimate"],"range":[[1,0],[1,0],[11,4.8]]}}}},
      {"transform":[{"filter":"datum.kind == 'predict' && datum.lag == 0"}],"mark":{"type":"text","fontWeight":"bold","align":"left","baseline":"alphabetic"},"encoding":{"x":{"datum":0.25,"type":"quantitative"},"y":{"datum":0.05,"type":"quantitative"},"text":{"field":"cell"}}}
    ]},
    {"transform":[{"filter":"datum.cell == '5 -> 5'"}],"encoding":{"x":{"field":"lag","type":"quantitative","scale":{"domain":[-2.5,52.5],"nice":false,"zero":false},"axis":{"values":[0,20,40],"labels":true,"title":"lagtime (steps)"}},"y":{"field":"prob","type":"quantitative","scale":{"domain":[0,1],"nice":false},"axis":{"values":[0,0.2,0.4,0.6,0.8,1],"format":".1f","labels":false,"title":null}}},"layer":[
      {"mark":{"type":"area","opacity":0.25},"encoding":{"y":{"field":"lo","type":"quantitative"},"y2":{"field":"hi"},"fill":{"field":"kind","type":"nominal","legend":null,"scale":{"domain":["predict","estimate"],"range":["#000000","#1f77b4"]}}}},
      {"transform":[{"filter":"datum.kind == 'predict'"}],"mark":{"type":"line","strokeWidth":3},"encoding":{"stroke":{"field":"kind","type":"nominal","title":null,"scale":{"domain":["predict","conf. 95.0%","estimate"],"range":["#000000","transparent","#1f77b4"]}},"strokeDash":{"field":"kind","type":"nominal","title":null,"scale":{"domain":["predict","conf. 95.0%","estimate"],"range":[[1,0],[1,0],[11,4.8]]}}}},
      {"transform":[{"filter":"datum.kind == 'estimate'"}],"mark":{"type":"line","strokeWidth":3},"encoding":{"stroke":{"field":"kind","type":"nominal","title":null,"scale":{"domain":["predict","conf. 95.0%","estimate"],"range":["#000000","transparent","#1f77b4"]}},"strokeDash":{"field":"kind","type":"nominal","title":null,"scale":{"domain":["predict","conf. 95.0%","estimate"],"range":[[1,0],[1,0],[11,4.8]]}}}},
      {"transform":[{"filter":"datum.kind == 'predict' && datum.lag == 0"}],"mark":{"type":"text","fontWeight":"bold","align":"left","baseline":"alphabetic"},"encoding":{"x":{"datum":0.25,"type":"quantitative"},"y":{"datum":0.05,"type":"quantitative"},"text":{"field":"cell"}}}
    ]}
  ],
  "config": {
    "font": "DejaVu Sans",
    "view": {"stroke": "black", "strokeWidth": 1.5, "continuousWidth": 251, "continuousHeight": 249},
    "axis": {"domain": false, "grid": false, "tickColor": "black", "tickWidth": 1.5, "tickSize": 7, "labelFont": "DejaVu Sans", "labelFontSize": 20, "labelColor": "black", "labelFlush": false, "labelOverlap": false, "titleFont": "DejaVu Sans", "titleFontSize": 20, "titleFontWeight": "normal", "titleColor": "black"},
    "axisX": {"labelPadding": 8, "titlePadding": 8},
    "axisY": {"labelPadding": 8, "titlePadding": 10},
    "legend": {"orient": "none", "legendX": 461, "legendY": -221, "direction": "horizontal", "symbolType": "stroke", "symbolSize": 1936, "symbolStrokeWidth": 3, "labelFont": "DejaVu Sans", "labelFontSize": 20, "labelColor": "black", "labelOffset": 15, "columnPadding": 5},
    "text": {"font": "DejaVu Sans", "fontSize": 20, "color": "black"}
  }
}
